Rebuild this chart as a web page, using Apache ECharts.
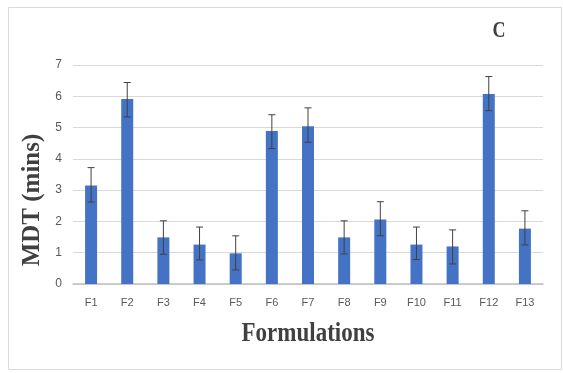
<!DOCTYPE html>
<html><head><meta charset="utf-8">
<script src="https://cdn.jsdelivr.net/npm/echarts@6/dist/echarts.min.js"></script>
<style>html,body{margin:0;padding:0;background:#fff}#c{width:563px;height:373px}</style>
</head><body><div id="c"></div>
<script>
var categories = ['F1','F2','F3','F4','F5','F6','F7','F8','F9','F10','F11','F12','F13'];
var mdtValues = [3.15, 5.91, 1.49, 1.26, 0.98, 4.89, 5.04, 1.49, 2.06, 1.26, 1.20, 6.07, 1.77];
var errUpper = [0.57, 0.53, 0.53, 0.56, 0.56, 0.52, 0.59, 0.53, 0.57, 0.56, 0.53, 0.56, 0.57];
var errLower = [0.53, 0.57, 0.54, 0.49, 0.53, 0.56, 0.51, 0.53, 0.52, 0.48, 0.56, 0.53, 0.52];
var yTicks = [0,1,2,3,4,5,6,7];

var errData = categories.map(function(c,i){ return [i, mdtValues[i]-errLower[i], mdtValues[i]+errUpper[i]]; });

var chart = echarts.init(document.getElementById('c'), null, {renderer:'canvas'});
chart.setOption({
  animation:false,
  backgroundColor:'#fff',
  grid:{left:73, right:20, top:65, bottom:89},
  xAxis:{type:'category', data:categories,
    axisLine:{lineStyle:{color:'#bfbfbf', width:1.5}}, axisTick:{show:false},
    axisLabel:{color:'#595959', fontSize:11, fontFamily:'Liberation Sans Narrow, Arial Narrow, Liberation Sans, sans-serif', margin:13}},
  yAxis:{type:'value', min:yTicks[0], max:yTicks[yTicks.length-1], interval:1,
    axisLine:{show:false}, axisTick:{show:false},
    splitLine:{lineStyle:{color:'#d9d9d9'}},
    axisLabel:{color:'#595959', fontSize:12, fontFamily:'Liberation Sans Narrow, Arial Narrow, Liberation Sans, sans-serif', margin:11}},
  series:[
    {type:'bar', data:mdtValues, barWidth:12, itemStyle:{color:'#4472C4'}},
    {type:'custom', data:errData, z:10,
      renderItem:function(params, api){
        var x = api.value(0);
        var lo = api.coord([x, api.value(1)]);
        var hi = api.coord([x, api.value(2)]);
        var hw = 3.5;
        var st = {stroke:'#404040', lineWidth:1};
        return {type:'group', children:[
          {type:'line', shape:{x1:hi[0], y1:hi[1], x2:lo[0], y2:lo[1]}, style:st},
          {type:'line', shape:{x1:hi[0]-hw, y1:hi[1], x2:hi[0]+hw, y2:hi[1]}, style:st},
          {type:'line', shape:{x1:lo[0]-hw, y1:lo[1], x2:lo[0]+hw, y2:lo[1]}, style:st}
        ]};
      }}
  ],
  graphic:[
    {type:'rect', left:6, top:5, shape:{width:553, height:362}, style:{fill:'none', stroke:'#d9d9d9', lineWidth:1}, silent:true},
    {type:'text', x:308, y:334, scaleY:1.18,
      style:{text:'Formulations', font:'bold 23px "Liberation Serif", serif', fill:'#404040', align:'center', verticalAlign:'middle'}},
    {type:'text', x:32, y:200, rotation:Math.PI/2, scaleY:1.05,
      style:{text:'MDT (mins)', font:'bold 25px "Liberation Serif", serif', fill:'#404040', align:'center', verticalAlign:'middle'}},
    {type:'text', x:499, y:31, scaleY:1.25,
      style:{text:'C', font:'bold 18px "Liberation Serif", serif', fill:'#404040', align:'center', verticalAlign:'middle'}}
  ]
});
</script></body></html>
